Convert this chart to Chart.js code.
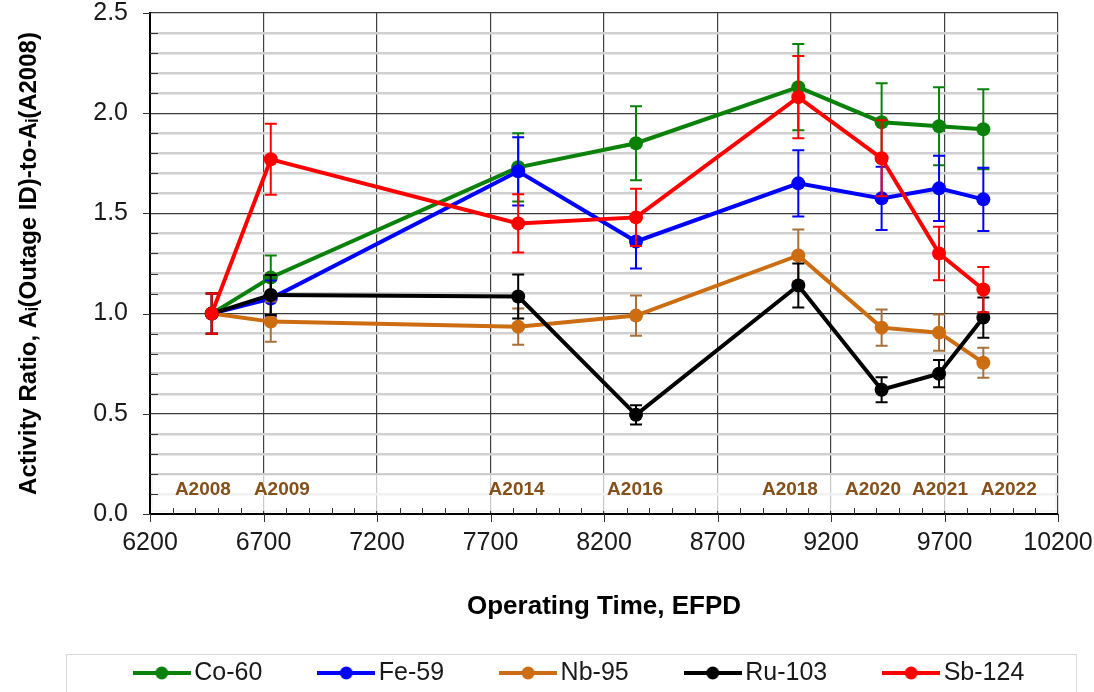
<!DOCTYPE html>
<html lang="en">

<head>
  <meta charset="utf-8">
  <title>Activity ratio vs operating time</title>
  <style>
    html,
    body {
      margin: 0;
      padding: 0;
      background: #ffffff;
    }

    .chart-box {
      position: relative;
      width: 1094px;
      height: 692px;
    }
  </style>
</head>

<body>
  <div class="chart-box">
    <canvas id="myChart"></canvas>
  </div>

  <script src="https://cdn.jsdelivr.net/npm/chart.js"></script>
  <script>

    // outage ids and where they sit on the time axis (EFPD)
    const outages = ['A2008', 'A2009', 'A2014', 'A2016', 'A2018', 'A2020', 'A2021', 'A2022'];
    const efpd = [6472, 6732, 7822, 8341, 9056, 9423, 9676, 9871];
    // where the brown outage captions sit (EFPD) - not exactly under the points in the original
    const outageLabelAt = [6433, 6781, 7815, 8337, 9019, 9385, 9680, 9983];

    // activity ratios and +/- uncertainty, one pair per nuclide
    const co60 = [1.00, 1.18, 1.73, 1.85, 2.13, 1.955, 1.935, 1.92];
    const co60Err = [0.10, 0.11, 0.17, 0.185, 0.215, 0.195, 0.195, 0.20];
    const fe59 = [1.00, 1.075, 1.71, 1.36, 1.65, 1.575, 1.625, 1.57];
    const fe59Err = [0.10, 0.09, 0.17, 0.135, 0.165, 0.158, 0.163, 0.158];
    const nb95 = [1.00, 0.96, 0.935, 0.99, 1.29, 0.93, 0.905, 0.755];
    const nb95Err = [0.10, 0.10, 0.09, 0.10, 0.13, 0.09, 0.09, 0.075];
    const ru103 = [1.00, 1.093, 1.085, 0.495, 1.14, 0.62, 0.70, 0.98];
    const ru103Err = [0.10, 0.10, 0.11, 0.048, 0.11, 0.062, 0.068, 0.10];
    const sb124 = [1.00, 1.77, 1.45, 1.48, 2.08, 1.775, 1.30, 1.12];
    const sb124Err = [0.10, 0.177, 0.145, 0.143, 0.205, 0.19, 0.133, 0.113];

    const nuclides = ['Co-60', 'Fe-59', 'Nb-95', 'Ru-103', 'Sb-124'];
    const values = [co60, fe59, nb95, ru103, sb124];
    const errors = [co60Err, fe59Err, nb95Err, ru103Err, sb124Err];
    const COLORS = ['#0a820a', '#0000ff', '#cc6d12', '#000000', '#ff0000'];
    const ERR_COLORS = ['#0a820a', '#0000ff', '#a8703a', '#000000', '#ff0000'];

    const FONT = "'Liberation Sans', Arial, sans-serif";

    /* ------------------------------------------------ */

    function legendMarker(color) {
      const c = document.createElement('canvas');
      c.width = 58;
      c.height = 16;
      const g = c.getContext('2d');
      g.strokeStyle = color;
      g.lineWidth = 4;
      g.beginPath();
      g.moveTo(0, 8);
      g.lineTo(58, 8);
      g.stroke();
      g.fillStyle = color;
      g.beginPath();
      g.arc(29, 8, 6.5, 0, Math.PI * 2);
      g.fill();
      return c;
    }

    const markers = COLORS.map(legendMarker);

    function isMajor(v, step) {
      const q = v / step;
      return Math.abs(q - Math.round(q)) < 1e-6;
    }

    /* ------------------------------------------------ */

    // error bars, outage captions, axis ticks, legend frame
    const decor = {
      id: 'decor',
      beforeInit(chart) {
        const lg = chart.legend;
        const fit = lg.fit.bind(lg);
        lg.fit = function () {
          fit();
          this.height = 37;
        };
      },
      afterUpdate(chart) {
        const lg = chart.legend;
        const pad = lg.options.labels.padding;
        lg.top = 673 - pad - 12.5;
        lg.left += 54;
        lg.right += 54;
      },
      beforeDatasetsDraw(chart) {
        const { ctx, scales: { x, y } } = chart;
        ctx.save();
        const top = y.getPixelForValue(0.195);
        const bot = y.getPixelForValue(0.015);
        ctx.fillStyle = 'rgba(255,255,255,0.72)';
        ctx.fillRect(x.left + 2, top, x.right - x.left - 4, bot - top);
        ctx.strokeStyle = 'rgba(0,0,0,0.07)';
        ctx.lineWidth = 1;
        ctx.strokeRect(x.left + 2, top, x.right - x.left - 4, bot - top);

        ctx.fillStyle = '#85501a';
        ctx.font = 'bold 19px ' + FONT;
        ctx.textAlign = 'center';
        ctx.textBaseline = 'middle';
        outages.forEach((name, i) => {
          ctx.fillText(name, x.getPixelForValue(outageLabelAt[i]), y.getPixelForValue(0.12));
        });
        ctx.restore();
      },
      beforeDatasetDraw(chart, args) {
        const { ctx, scales: { x, y } } = chart;
        const i = args.index;
        ctx.save();
        ctx.strokeStyle = ERR_COLORS[i];
        ctx.lineWidth = 2;
        values[i].forEach((v, j) => {
          const px = x.getPixelForValue(efpd[j]);
          const hi = y.getPixelForValue(v + errors[i][j]);
          const lo = y.getPixelForValue(v - errors[i][j]);
          ctx.beginPath();
          ctx.moveTo(px, hi);
          ctx.lineTo(px, lo);
          ctx.moveTo(px - 6, hi);
          ctx.lineTo(px + 6, hi);
          ctx.moveTo(px - 6, lo);
          ctx.lineTo(px + 6, lo);
          ctx.stroke();
        });
        ctx.restore();
      },
      afterDraw(chart) {
        const { ctx, scales: { x, y } } = chart;
        ctx.save();
        ctx.strokeStyle = '#333';
        ctx.lineWidth = 1;
        ctx.beginPath();
        // minor ticks point inwards, major ones outwards
        y.ticks.forEach(t => {
          const py = Math.round(y.getPixelForValue(t.value)) + 0.5;
          if (isMajor(t.value, 0.5)) {
            ctx.moveTo(x.left - 7, py);
            ctx.lineTo(x.left, py);
          } else {
            ctx.moveTo(x.left, py);
            ctx.lineTo(x.left + 8, py);
          }
        });
        x.ticks.forEach(t => {
          const px = Math.round(x.getPixelForValue(t.value)) + 0.5;
          if (isMajor(t.value - 6200, 500)) {
            ctx.moveTo(px, y.bottom);
            ctx.lineTo(px, y.bottom + 8);
          } else {
            ctx.moveTo(px, y.bottom);
            ctx.lineTo(px, y.bottom - 6);
          }
        });
        ctx.stroke();

        // legend frame
        ctx.strokeStyle = '#d9d9d9';
        ctx.strokeRect(66.5, 654.5, 1010, 60);
        ctx.restore();
      }
    };

    /* ------------------------------------------------ */

    function buildChart() {
      const datasets = nuclides.map((name, i) => ({
        label: name,
        data: efpd.map((t, j) => ({ x: t, y: values[i][j] })),
        borderColor: COLORS[i],
        backgroundColor: COLORS[i],
        borderWidth: 4,
        pointRadius: 7,
        pointBorderWidth: 0,
        pointBackgroundColor: COLORS[i],
        tension: 0,
        order: nuclides.length - i
      }));

      const ctx = document.getElementById('myChart').getContext('2d');

      new Chart(ctx, {
        type: 'line',
        data: { datasets: datasets },
        plugins: [decor],
        options: {
          responsive: true,
          maintainAspectRatio: false,
          animation: false,
          layout: {
            padding: { top: 13, right: 36, bottom: 0, left: 0 }
          },
          scales: {
            x: {
              type: 'linear',
              min: 6200,
              max: 10200,
              afterFit: (scale) => { scale.height = 141; },
              ticks: {
                stepSize: 100,
                maxTicksLimit: 60,
                autoSkip: false,
                maxRotation: 0,
                padding: 0,
                color: '#1a1a1a',
                font: { family: FONT, size: 25 },
                callback: (v) => (isMajor(v - 6200, 500) ? String(v) : '')
              },
              grid: {
                color: (c) => (isMajor(c.tick.value - 6200, 500) ? '#404040' : 'rgba(0,0,0,0)'),
                lineWidth: 1.2,
                tickLength: 14,
                tickColor: 'rgba(0,0,0,0)'
              },
              border: { display: true, color: '#000', width: 2 },
              title: {
                display: true,
                text: 'Operating Time, EFPD',
                color: '#000',
                font: { family: FONT, size: 26, weight: 'bold' },
                padding: { top: 0, bottom: 33 }
              }
            },
            y: {
              min: 0,
              max: 2.5,
              afterFit: (scale) => { scale.width = 150; },
              ticks: {
                stepSize: 0.1,
                maxTicksLimit: 40,
                autoSkip: false,
                padding: 0,
                color: '#1a1a1a',
                font: { family: FONT, size: 25, lineHeight: 1 },
                callback: (v) => (isMajor(v, 0.5) ? v.toFixed(1) : '')
              },
              grid: {
                color: (c) => (isMajor(c.tick.value, 0.5) ? '#3c3c3c' : '#d0d0d0'),
                lineWidth: (c) => (isMajor(c.tick.value, 0.5) ? 1.3 : 2.5),
                tickLength: 22,
                tickColor: 'rgba(0,0,0,0)'
              },
              border: { display: true, color: '#000', width: 2 },
              title: {
                display: true,
                text: 'Activity Ratio, Aᵢ(Outage ID)-to-Aᵢ(A2008)',
                color: '#000',
                font: { family: FONT, size: 24, weight: 'bold' },
                padding: { top: 14.6, bottom: 0 }
              }
            }
          },
          plugins: {
            tooltip: { enabled: false },
            legend: {
              display: true,
              position: 'bottom',
              labels: {
                usePointStyle: true,
                pointStyleWidth: 40,
                padding: 64,
                color: '#1a1a1a',
                font: { family: FONT, size: 25 },
                sort: (a, b) => a.datasetIndex - b.datasetIndex,
                generateLabels: (chart) => {
                  const items = Chart.defaults.plugins.legend.labels.generateLabels(chart);
                  items.forEach(it => { it.pointStyle = markers[it.datasetIndex]; });
                  return items;
                }
              }
            }
          }
        }
      });
    }

    buildChart();

  </script>
</body>

</html>
